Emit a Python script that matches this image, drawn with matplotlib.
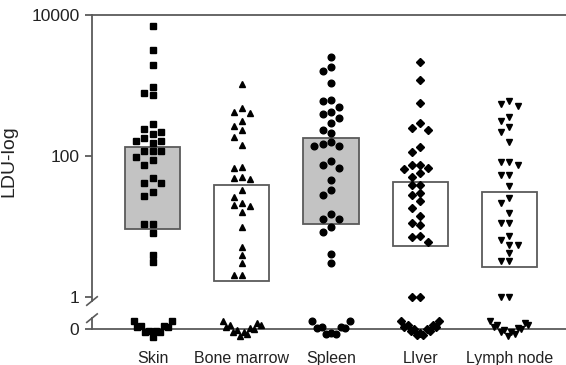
import numpy as np
import matplotlib.pyplot as plt

plt.rcParams['font.family'] = ['Liberation Sans', 'DejaVu Sans']

# data (LDU values; zeros are counted separately)
categories = ['Skin', 'Bone marrow', 'Spleen', 'LIver', 'Lymph node']
skin = [7050, 3190, 1950, 940, 775, 733, 282, 239, 221, 205, 182, 163, 163, 155,
        118, 118, 118, 98, 88, 74, 49, 41, 41, 31, 27, 10.7, 10.7, 8.0, 4.0, 3.1]
bone_marrow = [1050, 475, 425, 403, 314, 267, 234, 188, 143, 70, 67, 51, 48, 47,
               33, 26.5, 21.3, 20.2, 19.7, 15.9, 9.9, 5.1, 3.9, 3.0, 2.05, 2.05]
spleen = [2512, 1849, 1607, 1074, 623, 603, 491, 425, 390, 343, 291, 234, 210, 160,
          147, 139, 139, 85, 75, 67, 46, 33, 28, 14.9, 12.8, 12.8, 9.7, 8.4, 4.1, 3.0]
liver = [2133, 1197, 559, 297, 247, 234, 136, 115, 75, 75, 68, 65, 57, 50, 39, 39,
         30, 28, 23, 18.5, 14.1, 11.1, 10.5, 7.3, 7.2, 6.1, 1.0, 1.0]
lymph_node = [603, 541, 517, 361, 314, 260, 221, 160, 83, 83, 75, 54, 54, 38, 25.6,
              21.8, 15.4, 11.1, 11.1, 7.4, 6.4, 5.5, 5.5, 4.2, 3.2, 3.2, 1.0, 1.0]
zero_counts = [11, 12, 9, 13, 12]
box_low = [9.2, 1.70, 10.8, 5.3, 2.64]
box_high = [136, 38.8, 182, 42.4, 30.5]
box_filled = [True, False, True, False, False]
ytick_values = [10000, 100, 1, 0]

series = [skin, bone_marrow, spleen, liver, lymph_node]
markers = ['s', '^', 'o', 'D', 'v']
msizes = [4.8, 5.0, 4.8, 3.6, 5.0]

ZERO = -0.454          # position of the "0" row on the log10 axis
YTOP = 4.0

fig = plt.figure(figsize=(5.66, 3.65), dpi=100)
ax = fig.add_axes([92 / 566, 1 - 329 / 365, 1 - 92 / 566, 314 / 365])
ax.set_xlim(-0.68, 4.635)
ax.set_ylim(ZERO, YTOP)

# pixel scales for the swarm layout
px_x = 474 / (4.635 + 0.68)
px_y = 314 / (YTOP - ZERO)


def swarm(logv, dx=8.3, d=7.5):
    placed = []
    res = np.zeros(len(logv))
    for i in np.argsort(-logv, kind='stable'):
        y = logv[i] * px_y
        for k in [0, -1, 1, -2, 2, -3, 3]:
            x = k * dx
            if all((x - a) ** 2 + (y - b) ** 2 >= d * d for a, b in placed):
                break
        placed.append((x, y))
        res[i] = x
    return res / px_x


edge = '#5a5a5a'
for i, vals in enumerate(series):
    lo, hi = np.log10(box_low[i]), np.log10(box_high[i])
    ax.bar(i, hi - lo, bottom=lo, width=0.62,
           color='#c3c3c3' if box_filled[i] else 'white',
           edgecolor=edge, linewidth=1.3, zorder=2)

    logv = np.log10(np.array(vals, dtype=float))
    xo = swarm(logv)
    ax.plot(i + xo, logv, linestyle='none', marker=markers[i], ms=msizes[i],
            color='black', zorder=3, clip_on=False)

    # zeros laid out in a shallow V around the baseline
    n = zero_counts[i]
    t = np.linspace(-1, 1, n)
    dy = -6 + 12 * (1 - np.abs(t)) + np.where(np.arange(n) % 2 == 0, -2, 2)
    ax.plot(i + t * 19 / px_x, ZERO - dy / px_y, linestyle='none',
            marker=markers[i], ms=msizes[i], color='black', zorder=3, clip_on=False)

# axes styling
for s in ['left', 'right']:
    ax.spines[s].set_visible(False)
for s in ['top', 'bottom']:
    ax.spines[s].set_color(edge)
    ax.spines[s].set_linewidth(1.3)
ax.spines['bottom'].set_zorder(1)

ytr = ax.get_yaxis_transform()
ax.plot([0, 0], [YTOP, -0.057], transform=ytr, color=edge, lw=1.3, clip_on=False)
ax.plot([0, 0], [-0.30, ZERO], transform=ytr, color=edge, lw=1.3, clip_on=False)
for yc in [-0.057, -0.30]:
    ax.plot([-0.011, 0.011], [yc - 0.06, yc + 0.06], transform=ytr,
            color=edge, lw=1.2, clip_on=False)

ytick_pos = [np.log10(v) if v > 0 else ZERO for v in ytick_values]
ax.set_yticks(ytick_pos)
ax.set_yticklabels([str(v) for v in ytick_values], fontsize=12.5, color='#222222')
ax.tick_params(axis='y', length=5, width=1.3, color=edge, pad=4)
ax.set_xticks(range(len(categories)))
ax.set_xticklabels(categories, fontsize=11.5, color='#222222')
ax.tick_params(axis='x', length=0, pad=16)
ax.set_ylabel('LDU-log', fontsize=14, color='#222222')
ax.yaxis.set_label_coords(-0.158, 0.535)

fig.savefig('out.png', dpi=100)
